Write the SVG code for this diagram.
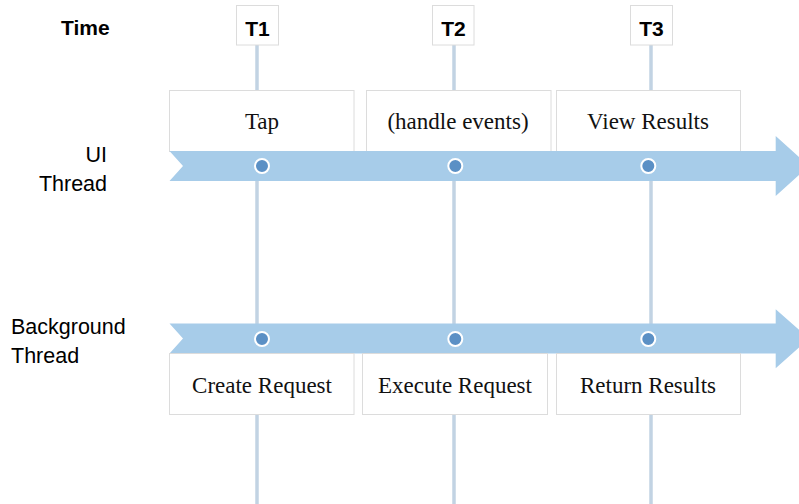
<svg xmlns="http://www.w3.org/2000/svg" width="799" height="504" viewBox="0 0 799 504">
  <style>
    .lbl { font-family: "Liberation Sans", Arial, sans-serif; font-size: 21.5px; fill: #000; }
    .tlbl { font-family: "Liberation Sans", Arial, sans-serif; font-size: 21px; font-weight: bold; fill: #000; text-anchor: middle; }
    .box { fill: #fff; stroke: #dcdcdc; stroke-width: 1; }
    .btxt { font-family: "Liberation Serif", "Times New Roman", serif; font-size: 23px; fill: #111; text-anchor: middle; }
    .vline { stroke: #c2d3e3; stroke-width: 3.5; fill: none; }
    .arrow { fill: #a7cce9; }
    .dot { fill: #5b90c5; stroke: #fff; stroke-width: 2; }
  </style>

  <g id="connectors">
    <line class="vline" x1="257" y1="45" x2="257" y2="504"/>
    <line class="vline" x1="454" y1="45" x2="454" y2="504"/>
    <line class="vline" x1="651" y1="45" x2="651" y2="504"/>
  </g>

  <g id="time-label"><text class="lbl" x="61" y="35" style="font-weight:bold;font-size:21px">Time</text></g>
  <g id="ui-label">
    <text class="lbl" x="107" y="162" text-anchor="end">UI</text>
    <text class="lbl" x="107" y="191" text-anchor="end">Thread</text>
  </g>
  <g id="bg-label">
    <text class="lbl" x="11" y="334">Background</text>
    <text class="lbl" x="11" y="363">Thread</text>
  </g>

  <g id="t1"><rect class="box" x="236.5" y="5.5" width="42" height="39.5"/><text class="tlbl" x="257.5" y="35.5">T1</text></g>
  <g id="t2"><rect class="box" x="432.5" y="5.5" width="41.5" height="39.5"/><text class="tlbl" x="453.5" y="35.5">T2</text></g>
  <g id="t3"><rect class="box" x="630.5" y="5.5" width="42" height="39.5"/><text class="tlbl" x="651.5" y="35.5">T3</text></g>

  <g id="tap"><rect class="box" x="169.5" y="90.5" width="184.5" height="61"/><text class="btxt" x="262" y="129">Tap</text></g>
  <g id="handle"><rect class="box" x="366.5" y="90.5" width="184.5" height="61"/><text class="btxt" x="458" y="129">(handle events)</text></g>
  <g id="view"><rect class="box" x="556.5" y="90.5" width="184" height="61"/><text class="btxt" x="648" y="129">View Results</text></g>

  <g id="ui-thread">
    <path class="arrow" d="M169.5,151 L775.7,151 L775.7,136 L809,166 L775.7,196 L775.7,181 L169.5,181 L183,166 Z"/>
    <circle class="dot" cx="262" cy="166" r="7"/>
    <circle class="dot" cx="455.3" cy="166" r="7"/>
    <circle class="dot" cx="648.3" cy="166" r="7"/>
  </g>

  <g id="bg-thread">
    <path class="arrow" d="M169.5,323.5 L775.7,323.5 L775.7,309.3 L809,338.5 L775.7,368.3 L775.7,353.5 L169.5,353.5 L183,338.5 Z"/>
    <circle class="dot" cx="262" cy="339" r="7"/>
    <circle class="dot" cx="455.3" cy="339" r="7"/>
    <circle class="dot" cx="648.3" cy="339" r="7"/>
  </g>

  <g id="create"><rect class="box" x="169.5" y="353.5" width="184.5" height="61"/><text class="btxt" x="262" y="393">Create Request</text></g>
  <g id="execute"><rect class="box" x="362.5" y="353.5" width="185" height="61"/><text class="btxt" x="455" y="393">Execute Request</text></g>
  <g id="return"><rect class="box" x="556.5" y="353.5" width="184" height="61"/><text class="btxt" x="648" y="393">Return Results</text></g>
</svg>
